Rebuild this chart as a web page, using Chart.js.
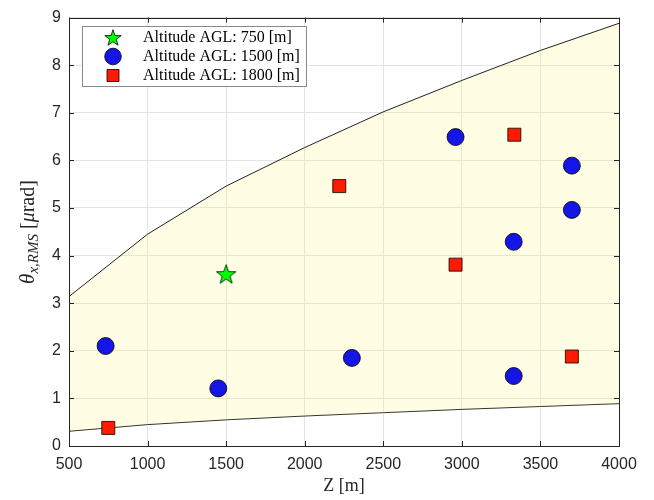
<!DOCTYPE html>
<html>
<head>
<meta charset="utf-8">
<script src="https://cdn.jsdelivr.net/npm/chart.js@4"></script>
<style>
  body { margin: 0; background: #fff; }
  canvas { display: block; }
</style>
</head>
<body>
<canvas id="rmsChart" width="654" height="500"></canvas>
<script>
// Enveloppe (limites haute et basse)
const zGrid = [500, 1000, 1500, 2000, 2500, 3000, 3500, 4000];
const upperBound = [3.14, 4.45, 5.46, 6.27, 7.02, 7.68, 8.31, 8.88];
const lowerBound = [0.31, 0.45, 0.55, 0.63, 0.70, 0.77, 0.83, 0.89];

// Mesures par altitude
const alt750Z = [1500];
const alt750Theta = [3.61];
const alt1500Z = [733, 1450, 2300, 2960, 3330, 3330, 3700, 3700];
const alt1500Theta = [2.10, 1.21, 1.85, 6.49, 4.29, 1.47, 5.89, 4.96];
const alt1800Z = [750, 2220, 2960, 3334, 3700];
const alt1800Theta = [0.38, 5.46, 3.81, 6.54, 1.88];

const legendLabels = ['Altitude AGL: 750 [m]', 'Altitude AGL: 1500 [m]', 'Altitude AGL: 1800 [m]'];
const xTicks = [500, 1000, 1500, 2000, 2500, 3000, 3500, 4000];
const yTicks = [0, 1, 2, 3, 4, 5, 6, 7, 8, 9];

const GREEN = '#00ff00';
const BLUE = '#1515e6';
const RED = '#ff1a00';
const AXIS = '#262626';
const SERIF = '"Liberation Serif", "DejaVu Serif", serif';
const SANS = '"Liberation Sans", Arial, sans-serif';

function toPoints(xs, ys) {
    return xs.map((x, i) => ({ x: x, y: ys[i] }));
}

// Etoile pleine (le style 'star' de Chart.js n'est pas rempli)
function drawStar(ctx, cx, cy, rOut, rIn) {
    ctx.beginPath();
    for (let i = 0; i < 10; i++) {
        const r = i % 2 === 0 ? rOut : rIn;
        const a = -Math.PI / 2 + i * Math.PI / 5;
        const px = cx + r * Math.cos(a), py = cy + r * Math.sin(a);
        if (i === 0) ctx.moveTo(px, py); else ctx.lineTo(px, py);
    }
    ctx.closePath();
    ctx.fillStyle = GREEN;
    ctx.fill();
    ctx.lineWidth = 0.8;
    ctx.strokeStyle = '#000';
    ctx.stroke();
}
const starCanvas = document.createElement('canvas');
starCanvas.width = 24;
starCanvas.height = 24;
drawStar(starCanvas.getContext('2d'), 12, 12.8, 10.3, 4.1);

const frameAndLabels = {
    id: 'frameAndLabels',
    afterDraw(chart) {
        const ctx = chart.ctx;
        const a = chart.chartArea;
        const xs = chart.scales.x, ys = chart.scales.y;
        ctx.save();

        // cadre
        ctx.strokeStyle = AXIS;
        ctx.lineWidth = 1;
        ctx.strokeRect(Math.round(a.left) + 0.5, Math.round(a.top) + 0.5,
            Math.round(a.right - a.left), Math.round(a.bottom - a.top));

        // graduations intérieures sur les 4 côtés
        ctx.beginPath();
        xTicks.forEach(v => {
            const px = Math.round(xs.getPixelForValue(v)) + 0.5;
            ctx.moveTo(px, a.bottom); ctx.lineTo(px, a.bottom - 5);
            ctx.moveTo(px, a.top); ctx.lineTo(px, a.top + 5);
        });
        yTicks.forEach(v => {
            const py = Math.round(ys.getPixelForValue(v)) + 0.5;
            ctx.moveTo(a.left, py); ctx.lineTo(a.left + 5, py);
            ctx.moveTo(a.right, py); ctx.lineTo(a.right - 5, py);
        });
        ctx.stroke();

        // titre axe X
        ctx.fillStyle = AXIS;
        ctx.font = '18px ' + SERIF;
        ctx.textAlign = 'center';
        ctx.textBaseline = 'middle';
        ctx.fillText('Z [m]', (a.left + a.right) / 2, 486);

        // titre axe Y : θ_{x,RMS} [μrad]
        const parts = [
            { t: '\u03B8', f: 'italic 21px ' + SERIF, dy: 0 },
            { t: 'x,RMS', f: 'italic 15px ' + SERIF, dy: 4 },
            { t: ' [', f: '20px ' + SERIF, dy: 0 },
            { t: '\u03BC', f: 'italic 20px ' + SERIF, dy: 0 },
            { t: 'rad]', f: '20px ' + SERIF, dy: 0 }
        ];
        let total = 0;
        parts.forEach(p => { ctx.font = p.f; p.w = ctx.measureText(p.t).width; total += p.w; });
        ctx.translate(28, 232);
        ctx.rotate(-Math.PI / 2);
        ctx.textAlign = 'left';
        ctx.textBaseline = 'alphabetic';
        let cx = -total / 2;
        parts.forEach(p => {
            ctx.font = p.f;
            ctx.fillText(p.t, cx, 6 + p.dy);
            cx += p.w;
        });
        ctx.restore();

        // légende
        ctx.save();
        const lx = 82.5, ly = 26.5, lw = 224, lh = 60;
        ctx.fillStyle = '#fff';
        ctx.fillRect(lx, ly, lw, lh);
        ctx.strokeStyle = '#8a8a8a';
        ctx.lineWidth = 1;
        ctx.strokeRect(lx, ly, lw, lh);
        const rows = [37.5, 56.5, 75.5];
        const mx = 113;
        drawStar(ctx, mx, rows[0] + 0.8, 8.6, 3.4);
        ctx.beginPath();
        ctx.arc(mx, rows[1], 8.3, 0, Math.PI * 2);
        ctx.fillStyle = BLUE;
        ctx.fill();
        ctx.lineWidth = 0.8;
        ctx.strokeStyle = '#000';
        ctx.stroke();
        ctx.beginPath();
        ctx.rect(mx - 6, rows[2] - 6, 12, 12);
        ctx.fillStyle = RED;
        ctx.fill();
        ctx.stroke();
        ctx.fillStyle = '#000';
        ctx.font = '16px ' + SERIF;
        ctx.textAlign = 'left';
        ctx.textBaseline = 'middle';
        legendLabels.forEach((lbl, i) => ctx.fillText(lbl, 143, rows[i] + 0.5));
        ctx.restore();
    }
};

new Chart(document.getElementById('rmsChart'), {
    type: 'scatter',
    data: {
        datasets: [
            {
                label: 'upper',
                data: toPoints(zGrid, upperBound),
                showLine: true,
                borderColor: '#222',
                borderWidth: 1,
                pointRadius: 0,
                backgroundColor: 'rgba(255, 250, 120, 0.2)',
                fill: '+1',
                order: 10
            },
            {
                label: 'lower',
                data: toPoints(zGrid, lowerBound),
                showLine: true,
                borderColor: '#222',
                borderWidth: 1,
                pointRadius: 0,
                fill: false,
                order: 10
            },
            {
                label: legendLabels[0],
                data: toPoints(alt750Z, alt750Theta),
                pointStyle: starCanvas,
                pointRadius: 12,
                order: 1
            },
            {
                label: legendLabels[1],
                data: toPoints(alt1500Z, alt1500Theta),
                pointStyle: 'circle',
                pointRadius: 8.5,
                backgroundColor: BLUE,
                borderColor: '#000',
                borderWidth: 0.8,
                order: 1
            },
            {
                label: legendLabels[2],
                data: toPoints(alt1800Z, alt1800Theta),
                pointStyle: 'rect',
                pointRadius: 9.2,
                backgroundColor: RED,
                borderColor: '#000',
                borderWidth: 0.8,
                order: 1
            }
        ]
    },
    options: {
        responsive: false,
        animation: false,
        layout: { padding: { left: 0, right: 35, top: 14, bottom: 0 } },
        plugins: {
            legend: { display: false },
            tooltip: { enabled: false }
        },
        scales: {
            x: {
                type: 'linear',
                min: 500,
                max: 4000,
                afterBuildTicks: scale => { scale.ticks = xTicks.map(v => ({ value: v })); },
                afterFit: scale => { scale.height = 54; },
                grid: { color: '#e3e3e3', drawTicks: false },
                border: { display: false },
                ticks: {
                    color: AXIS,
                    padding: 9,
                    maxRotation: 0,
                    callback: v => String(v),
                    font: { family: SANS, size: 16 }
                }
            },
            y: {
                min: 0,
                max: 9,
                afterBuildTicks: scale => { scale.ticks = yTicks.map(v => ({ value: v })); },
                afterFit: scale => { scale.width = 69; },
                grid: { color: '#e3e3e3', drawTicks: false },
                border: { display: false },
                ticks: {
                    color: AXIS,
                    padding: 8,
                    callback: v => String(v),
                    font: { family: SANS, size: 16 }
                }
            }
        }
    },
    plugins: [frameAndLabels]
});
</script>
</body>
</html>
